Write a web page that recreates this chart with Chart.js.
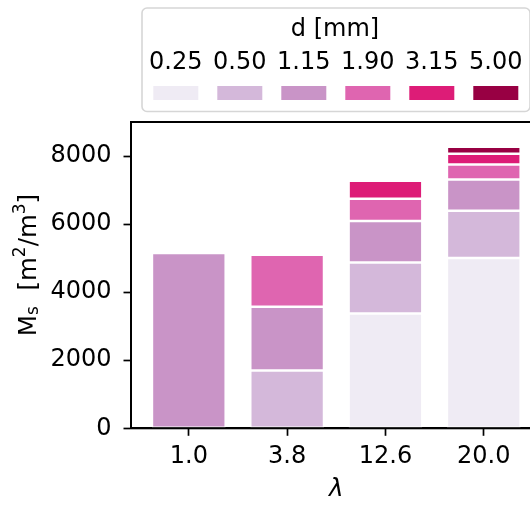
<!DOCTYPE html>
<html>
<head>
<meta charset="utf-8">
<script src="https://cdn.jsdelivr.net/npm/chart.js@4"></script>
<style>
  html, body { margin: 0; padding: 0; overflow: hidden; background: #fff; }
  #wrap { width: 530px; height: 506px; overflow: hidden; }
</style>
</head>
<body>
<div id="wrap"><canvas id="c" width="545" height="506"></canvas></div>
<script>
// lambda categories on the x axis
const lambdaLabels = ['1.0', '3.8', '12.6', '20.0'];
// particle diameters d [mm], one stacked series each
const diameters = ['0.25', '0.50', '1.15', '1.90', '3.15', '5.00'];
// Ms [m2/m3] contribution of each diameter, per lambda
const ms025 = [0, 0, 3370, 5005];
const ms050 = [0, 1700, 1500, 1385];
const ms115 = [5150, 1870, 1220, 920];
const ms190 = [0, 1530, 655, 440];
const ms315 = [0, 0, 530, 320];
const ms500 = [0, 0, 0, 205];
const yTicks = [0, 2000, 4000, 6000, 8000];

const colors = ['#efebf4', '#d4b8da', '#c994c7', '#df65b0', '#dd1c77', '#980043'];
const FONT = 'DejaVu Sans';

const series = [ms025, ms050, ms115, ms190, ms315, ms500];
const datasets = series.map((vals, k) => ({
  label: diameters[k],
  data: vals.map((v, i) => ({ x: i, y: v })),
  backgroundColor: colors[k],
  borderColor: '#fff',
  borderWidth: 1.25,
  borderSkipped: false,
  inflateAmount: 0,
  barPercentage: 0.75,
  categoryPercentage: 1
}));

// frame round the plot, drawn over the bars
const spines = {
  id: 'spines',
  afterDatasetsDraw(chart) {
    const { ctx, chartArea: a } = chart;
    ctx.save();
    ctx.strokeStyle = '#000';
    ctx.lineWidth = 2;
    ctx.strokeRect(a.left, a.top, a.right - a.left, a.bottom - a.top);
    ctx.restore();
  }
};

// legend: title, labels above the colour swatches
const legendBox = {
  id: 'legendBox',
  afterDraw(chart) {
    const ctx = chart.ctx;
    ctx.save();
    ctx.beginPath();
    ctx.roundRect(142, 8, 388, 103.5, 5);
    ctx.fillStyle = '#fff';
    ctx.fill();
    ctx.strokeStyle = '#d6d6d6';
    ctx.lineWidth = 1.6;
    ctx.stroke();
    ctx.fillStyle = '#000';
    ctx.textAlign = 'center';
    ctx.textBaseline = 'middle';
    ctx.font = '24px ' + FONT;
    ctx.fillText('d [mm]', 335, 30);
    chart.data.datasets.forEach((ds, k) => {
      const cx = 175.8 + 64 * k;
      ctx.fillStyle = '#000';
      ctx.fillText(ds.label, cx, 63);
      ctx.fillStyle = ds.backgroundColor;
      ctx.fillRect(cx - 22.5, 86, 45, 14);
    });
    ctx.restore();
  }
};

// y title with sub/superscripts: M_s [m^2/m^3]
const yTitle = {
  id: 'yTitle',
  afterDraw(chart) {
    const ctx = chart.ctx;
    const parts = [['M', 0], ['s', -1], ['  [m', 0], ['2', 1], ['/m', 0], ['3', 1], [']', 0]];
    const size = l => (l === 0 ? 24.5 : 17);
    ctx.save();
    let total = 0;
    parts.forEach(([t, l]) => { ctx.font = size(l) + 'px ' + FONT; total += ctx.measureText(t).width; });
    ctx.translate(36, 265);
    ctx.rotate(-Math.PI / 2);
    ctx.fillStyle = '#000';
    ctx.textAlign = 'left';
    ctx.textBaseline = 'alphabetic';
    let x = -total / 2;
    parts.forEach(([t, l]) => {
      ctx.font = size(l) + 'px ' + FONT;
      const dy = l < 0 ? 2 : (l > 0 ? -11 : 0);
      ctx.fillText(t, x, dy);
      x += ctx.measureText(t).width;
    });
    ctx.restore();
  }
};

new Chart(document.getElementById('c'), {
  type: 'bar',
  data: { datasets },
  options: {
    responsive: false,
    animation: false,
    layout: { padding: { top: 122, left: 0, right: 3.4, bottom: 0 } },
    plugins: { legend: { display: false }, tooltip: { enabled: false } },
    scales: {
      x: {
        type: 'linear',
        stacked: true,
        offset: false,
        min: -0.588,
        max: 3.588,
        afterBuildTicks: s => { s.ticks = lambdaLabels.map((_, i) => ({ value: i })); },
        afterFit: s => { s.height = 77.7; },
        ticks: {
          color: '#000',
          font: { family: FONT, size: 24 },
          padding: 7,
          maxRotation: 0,
          autoSkip: false,
          callback: v => lambdaLabels[v]
        },
        grid: { display: true, offset: false, drawOnChartArea: false, drawTicks: true, tickLength: 7.5, tickWidth: 1.7, tickColor: '#000' },
        border: { display: true, color: '#000', width: 2 },
        title: { display: true, text: 'λ', color: '#000', font: { family: FONT, size: 24.5, style: 'italic' }, padding: { top: 0, bottom: 2 } }
      },
      y: {
        stacked: true,
        min: 0,
        max: 9000,
        afterBuildTicks: s => { s.ticks = yTicks.map(v => ({ value: v })); },
        afterFit: s => { s.width = 131; },
        ticks: { color: '#000', font: { family: FONT, size: 24 }, padding: 12, callback: v => String(v) },
        grid: { display: true, drawOnChartArea: false, drawTicks: true, tickLength: 7.5, tickWidth: 1.7, tickColor: '#000' },
        border: { display: true, color: '#000', width: 2 }
      }
    }
  },
  plugins: [spines, legendBox, yTitle]
});
</script>
</body>
</html>
